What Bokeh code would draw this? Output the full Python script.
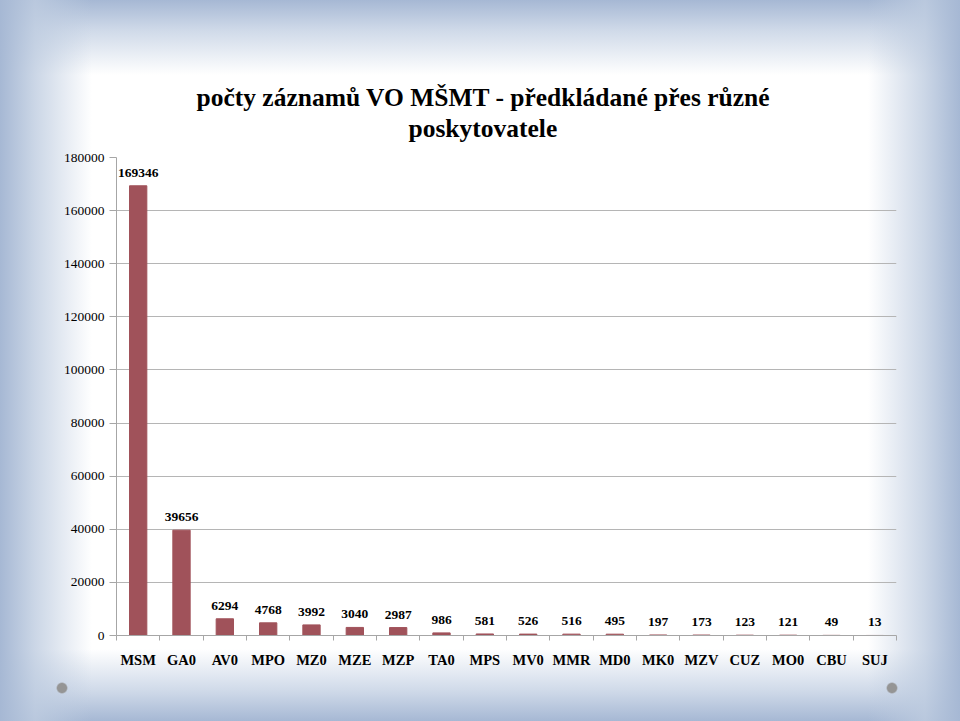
from bokeh.plotting import figure
from bokeh.models import ColumnDataSource, FixedTicker, LabelSet, Range1d, NumeralTickFormatter, Title
from bokeh.core.properties import value
from bokeh.embed import file_html
from bokeh.resources import INLINE

categories = ["MSM", "GA0", "AV0", "MPO", "MZ0", "MZE", "MZP", "TA0", "MPS",
              "MV0", "MMR", "MD0", "MK0", "MZV", "CUZ", "MO0", "CBU", "SUJ"]
counts = [169346, 39656, 6294, 4768, 3992, 3040, 2987, 986, 581,
          526, 516, 495, 197, 173, 123, 121, 49, 13]
y_ticks = [0, 20000, 40000, 60000, 80000, 100000, 120000, 140000, 160000, 180000]
title_line1 = "počty záznamů VO MŠMT - předkládané přes různé"
title_line2 = "poskytovatele"

FONT = "Liberation Serif"
BAR = "#a0525a"
GRID = "#b5b5b5"

xs = [i + 0.5 for i in range(len(categories))]
src = ColumnDataSource(dict(x=xs, v=counts, lbl=[str(c) for c in counts]))

p = figure(width=960, height=721, x_range=Range1d(0, len(categories)),
           y_range=Range1d(0, 180000), output_backend="svg", toolbar_location=None,
           min_border_left=116, min_border_right=64, min_border_top=157,
           min_border_bottom=86)

p.styles = {
    "background": (
        "radial-gradient(circle at 62px 688px, #959595 0px, #959595 4.5px, rgba(149,149,149,0) 6px),"
        "radial-gradient(circle at 892px 688px, #959595 0px, #959595 4.5px, rgba(149,149,149,0) 6px),"
        "linear-gradient(to right, rgba(166,184,212,1) 0px, rgba(190,204,224,0.8) 35px, rgba(255,255,255,0) 92px),"
        "linear-gradient(to left, rgba(166,184,212,1) 0px, rgba(190,204,224,0.8) 35px, rgba(255,255,255,0) 92px),"
        "linear-gradient(to bottom, rgba(166,184,212,1) 0px, rgba(195,208,227,0.8) 30px, rgba(255,255,255,0) 75px),"
        "linear-gradient(to top, rgba(166,184,212,1) 0px, rgba(195,208,227,0.8) 30px, rgba(255,255,255,0) 72px),"
        "#ffffff"
    )
}
p.border_fill_color = None
p.background_fill_color = None
p.outline_line_color = None

p.title.text = title_line1
p.title.align = "left"
p.title.offset = 80
p.title.text_font = FONT
p.title.text_font_size = "25.5px"
p.title.text_font_style = "bold"
p.title.text_color = "black"
p.title.standoff = 0

spacer = Title(text=" ", text_font_size="1px", standoff=12)
p.add_layout(spacer, "above")

t2 = Title(text=title_line2, align="left", offset=292, text_font=FONT,
           text_font_size="25.5px", text_font_style="bold", text_color="black",
           standoff=0)
p.add_layout(t2, "above")

p.vbar(x="x", top="v", width=0.4, source=src, fill_color=BAR, line_color=BAR)

labels = LabelSet(x="x", y="v", text="lbl", source=src, text_align="center",
                  text_baseline="bottom", y_offset=9,
                  text_font=value(FONT), text_font_size="13.5px",
                  text_font_style="bold", text_color="black")
p.add_layout(labels)

yax = p.yaxis[0]
yax.ticker = FixedTicker(ticks=y_ticks)
yax.formatter = NumeralTickFormatter(format="0")
yax.axis_line_color = "#a6a6a6"
yax.major_tick_line_color = "#a6a6a6"
yax.major_tick_out = 7
yax.major_tick_in = 0
yax.minor_tick_line_color = None
yax.major_label_standoff = 5
yax.major_label_text_font = FONT
yax.major_label_text_font_size = "13.5px"
yax.major_label_text_color = "black"

xax = p.xaxis[0]
xax.ticker = FixedTicker(ticks=xs, minor_ticks=list(range(len(categories) + 1)))
xax.major_label_overrides = {x: c for x, c in zip(xs, categories)}
xax.axis_line_color = "#a6a6a6"
xax.major_tick_line_color = None
xax.minor_tick_line_color = "#a6a6a6"
xax.minor_tick_out = 5
xax.minor_tick_in = 0
xax.major_label_standoff = 10
xax.major_label_text_font = FONT
xax.major_label_text_font_size = "14.5px"
xax.major_label_text_font_style = "bold"
xax.major_label_text_color = "black"

p.ygrid.ticker = FixedTicker(ticks=y_ticks)
p.ygrid.grid_line_color = GRID
p.xgrid.grid_line_color = None

open("out.html", "w").write(file_html(p, INLINE))
